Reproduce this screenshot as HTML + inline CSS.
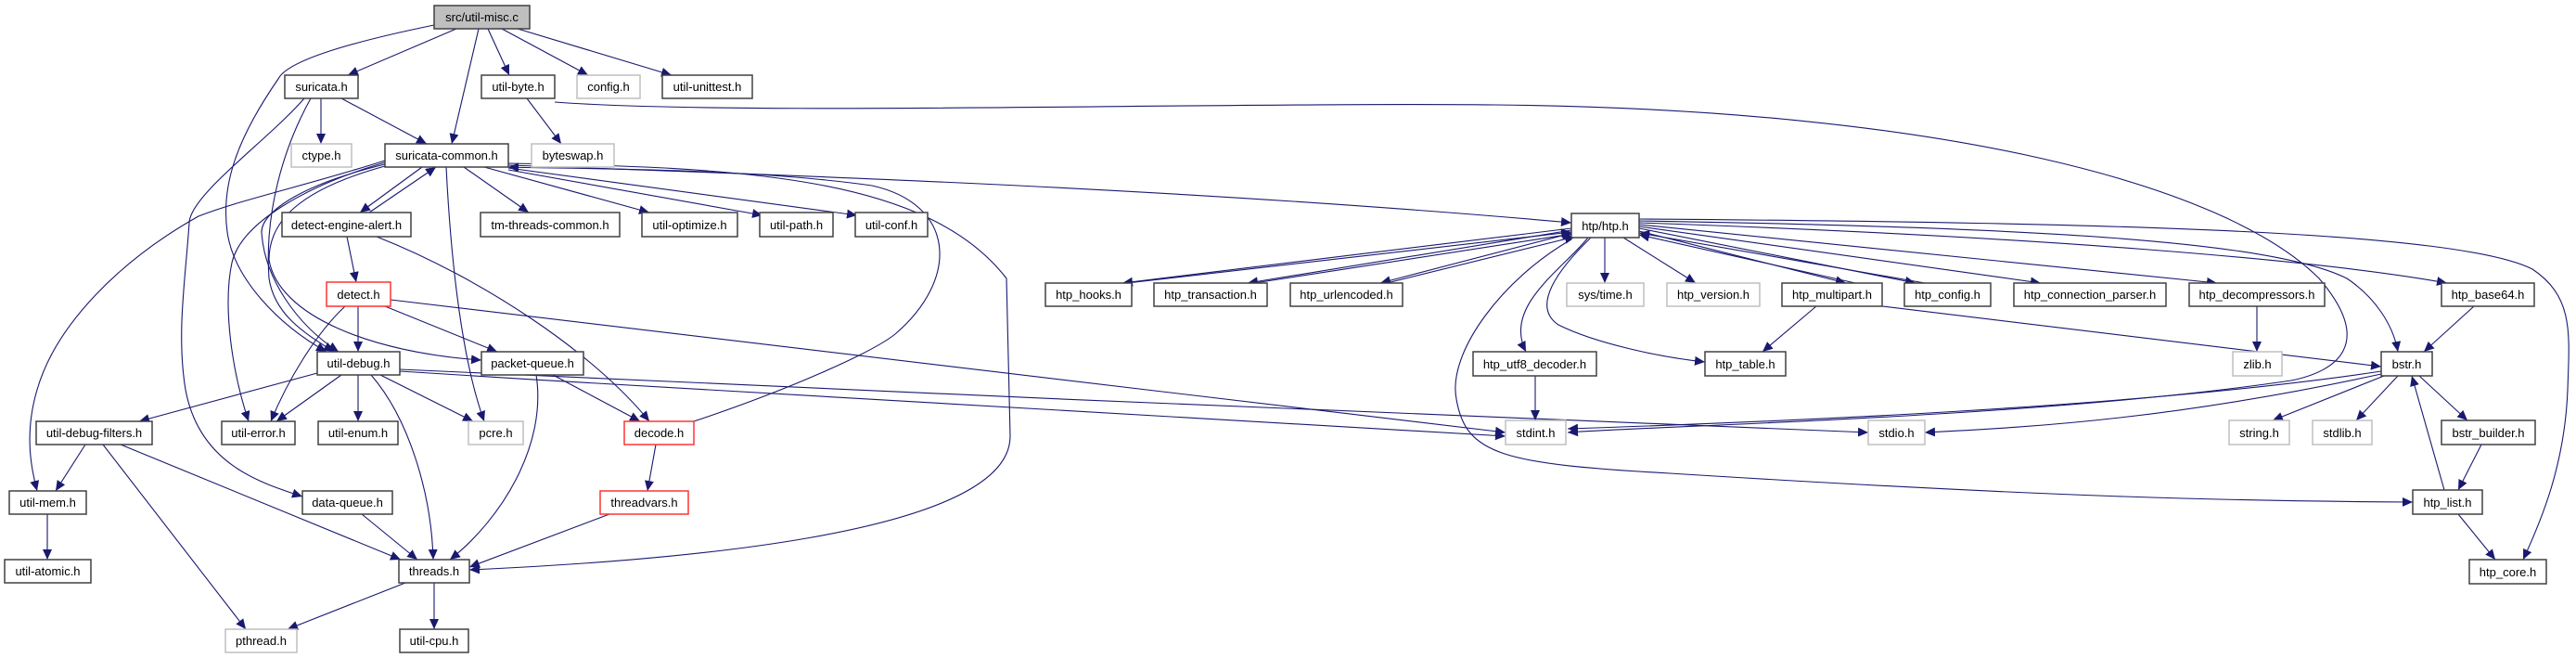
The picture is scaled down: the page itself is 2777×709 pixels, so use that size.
<!DOCTYPE html>
<html><head><meta charset="utf-8"><style>
html,body{margin:0;padding:0;background:#fff;}
svg{display:block;}
text{font-family:"Liberation Sans",sans-serif;font-size:13px;fill:#000;text-anchor:middle;}
.n{fill:#fff;stroke:#404040;stroke-width:1.5;}
.g{fill:#fff;stroke:#bfbfbf;stroke-width:1.5;}
.r{fill:#fff;stroke:#ff3333;stroke-width:1.5;}
.e{fill:none;stroke:#191970;stroke-width:1.1;marker-end:url(#a);}
</style></head><body>
<svg width="2777" height="709" viewBox="0 0 2777 709" xmlns="http://www.w3.org/2000/svg">
<defs><marker id="a" markerUnits="userSpaceOnUse" markerWidth="12" markerHeight="10" refX="11" refY="5" orient="auto"><path d="M0,0 L11,5 L0,10 z" fill="#191970"/></marker></defs>

<!-- edges -->
<path class="e" d="M492,31 L375,81"/>
<path class="e" d="M516,31 L487,155"/>
<path class="e" d="M526,31 L549,81"/>
<path class="e" d="M541,31 L634,81"/>
<path class="e" d="M558,31 L724,81"/>
<path class="e" d="M468,27 C380,45 310,65 300,85 C255,150 238,200 245,250 C252,300 300,350 352,379"/>
<path class="e" d="M346,106 L346,155"/>
<path class="e" d="M368,106 L460,155"/>
<path class="e" d="M328,106 C290,150 205,210 204,240 C200,300 190,360 200,420 C215,500 280,520 326,535"/>
<path class="e" d="M335,106 C305,160 285,230 290,300 C296,340 330,360 360,379"/>
<path class="e" d="M568,106 L605,155"/>
<path class="e" d="M598,110 C800,125 1300,110 1612,113 C2100,118 2400,200 2500,300 C2560,370 2520,400 2470,410 C2200,450 1800,458 1690,466"/>
<!-- suricata-common out -->
<path class="e" d="M415,173 C330,200 260,215 214,233 C130,280 60,350 40,420 C25,470 35,510 40,529"/>
<path class="e" d="M415,175 C330,200 260,240 250,283 C240,330 250,400 268,454"/>
<path class="e" d="M415,177 C320,200 282,230 282,250 C285,300 320,350 365,379"/>
<path class="e" d="M415,179 C320,205 290,240 290,280 C300,340 400,380 519,388"/>
<path class="e" d="M481,180 C485,260 495,380 522,454"/>
<path class="e" d="M455,180 L388,229"/>
<path class="e" d="M398,229 L470,180"/>
<path class="e" d="M500,180 L570,229"/>
<path class="e" d="M522,180 L700,229"/>
<path class="e" d="M548,183 L822,232"/>
<path class="e" d="M548,181 L924,232"/>
<path class="e" d="M548,178 C900,190 1300,205 1694,240"/>
<path class="e" d="M548,176 C800,180 1000,190 1085,300 L1089,470 C1089,580 700,605 506,614"/>
<path class="e" d="M748,454 C850,420 940,380 965,360 C1035,300 1030,220 940,200 C800,180 600,182 548,180"/>
<path class="e" d="M374,255 L384,304"/>
<path class="e" d="M406,255 C520,300 640,380 700,454"/>
<!-- detect.h -->
<path class="e" d="M372,330 C340,360 310,410 292,454"/>
<path class="e" d="M386,330 L386,379"/>
<path class="e" d="M415,330 L536,379"/>
<path class="e" d="M421,323 L1623,466"/>
<!-- util-debug -->
<path class="e" d="M342,402 L150,454"/>
<path class="e" d="M368,404 L298,454"/>
<path class="e" d="M386,404 L386,454"/>
<path class="e" d="M410,404 L510,454"/>
<path class="e" d="M400,404 C440,450 465,530 467,603"/>
<path class="e" d="M431,398 C900,420 1600,450 2014,466"/>
<path class="e" d="M431,400 C900,430 1400,455 1623,470"/>
<!-- packet-queue -->
<path class="e" d="M578,404 C590,480 540,560 485,603"/>
<path class="e" d="M596,404 L690,454"/>
<!-- filters -->
<path class="e" d="M92,479 L60,529"/>
<path class="e" d="M130,479 L432,603"/>
<path class="e" d="M111,479 L265,678"/>
<path class="e" d="M390,554 L450,603"/>
<path class="e" d="M51,554 L51,603"/>
<path class="e" d="M657,554 L506,611"/>
<path class="e" d="M437,628 L310,678"/>
<path class="e" d="M468,628 L468,678"/>
<path class="e" d="M707,479 L698,529"/>
<!-- htp -->
<path class="e" d="M1694,246 L1210,305"/>
<path class="e" d="M1215,305 L1694,250"/>
<path class="e" d="M1694,248 L1345,305"/>
<path class="e" d="M1352,305 L1695,252"/>
<path class="e" d="M1695,251 L1488,305"/>
<path class="e" d="M1495,305 L1698,255"/>
<path class="e" d="M1767,249 L1990,305"/>
<path class="e" d="M2000,305 L1767,253"/>
<path class="e" d="M1767,246 L2065,305"/>
<path class="e" d="M2075,305 L1767,251"/>
<path class="e" d="M1730,256 L1730,305"/>
<path class="e" d="M1750,256 L1828,305"/>
<path class="e" d="M1767,244 L2200,305"/>
<path class="e" d="M1767,242 L2390,305"/>
<path class="e" d="M1767,240 C2200,255 2500,280 2638,305"/>
<path class="e" d="M1767,238 C2200,245 2450,260 2530,300 C2560,320 2580,350 2585,379"/>
<path class="e" d="M1767,236 C2300,240 2650,250 2730,290 C2775,320 2770,360 2768,420 C2765,500 2740,560 2720,603"/>
<path class="e" d="M1712,256 C1685,290 1620,330 1645,379"/>
<path class="e" d="M1715,256 C1680,290 1650,330 1680,350 C1720,370 1790,385 1838,390"/>
<path class="e" d="M1694,258 C1620,300 1560,380 1570,430 C1580,490 1620,500 1800,510 C2200,535 2400,540 2601,541"/>
<path class="e" d="M1655,405 L1655,453"/>
<path class="e" d="M1958,330 L1900,379"/>
<path class="e" d="M2029,330 L2567,395"/>
<path class="e" d="M2433,330 L2433,379"/>
<path class="e" d="M2667,330 L2613,379"/>
<path class="e" d="M2567,400 C2300,440 1900,455 1690,462"/>
<path class="e" d="M2567,403 C2350,450 2200,460 2075,466"/>
<path class="e" d="M2570,405 L2450,453"/>
<path class="e" d="M2585,405 L2540,453"/>
<path class="e" d="M2608,405 L2660,453"/>
<path class="e" d="M2675,479 L2650,528"/>
<path class="e" d="M2635,528 L2600,405"/>
<path class="e" d="M2650,554 L2690,603"/>

<!-- nodes -->
<rect x="468" y="6" width="103" height="25" fill="#bfbfbf" stroke="#404040" stroke-width="1.5"/><text x="519.5" y="23">src/util-misc.c</text>
<rect class="n" x="307" y="81" width="79" height="25"/><text x="346.5" y="98">suricata.h</text>
<rect class="n" x="519" y="81" width="79" height="25"/><text x="558.5" y="98">util-byte.h</text>
<rect class="g" x="622" y="81" width="68" height="25"/><text x="656" y="98">config.h</text>
<rect class="n" x="714" y="81" width="97" height="25"/><text x="762.5" y="98">util-unittest.h</text>
<rect class="g" x="314" y="155" width="65" height="25"/><text x="346.5" y="172">ctype.h</text>
<rect class="n" x="415" y="155" width="133" height="25"/><text x="481.5" y="172">suricata-common.h</text>
<rect class="g" x="573" y="155" width="89" height="25"/><text x="617.5" y="172">byteswap.h</text>
<rect class="n" x="304" y="229" width="139" height="26"/><text x="373.5" y="247">detect-engine-alert.h</text>
<rect class="n" x="518" y="229" width="150" height="26"/><text x="593" y="247">tm-threads-common.h</text>
<rect class="n" x="692" y="229" width="103" height="26"/><text x="743.5" y="247">util-optimize.h</text>
<rect class="n" x="819" y="229" width="79" height="26"/><text x="858.5" y="247">util-path.h</text>
<rect class="n" x="922" y="229" width="78" height="26"/><text x="961" y="247">util-conf.h</text>
<rect class="r" x="352" y="304" width="69" height="26"/><text x="386.5" y="322">detect.h</text>
<rect class="n" x="342" y="379" width="89" height="25"/><text x="386.5" y="396">util-debug.h</text>
<rect class="n" x="519" y="379" width="110" height="25"/><text x="574" y="396">packet-queue.h</text>
<rect class="n" x="39" y="454" width="125" height="25"/><text x="101.5" y="471">util-debug-filters.h</text>
<rect class="n" x="239" y="454" width="79" height="25"/><text x="278.5" y="471">util-error.h</text>
<rect class="n" x="343" y="454" width="86" height="25"/><text x="386" y="471">util-enum.h</text>
<rect class="g" x="505" y="454" width="59" height="25"/><text x="534.5" y="471">pcre.h</text>
<rect class="r" x="673" y="454" width="75" height="25"/><text x="710.5" y="471">decode.h</text>
<rect class="n" x="10" y="529" width="83" height="25"/><text x="51.5" y="546">util-mem.h</text>
<rect class="n" x="326" y="529" width="97" height="25"/><text x="374.5" y="546">data-queue.h</text>
<rect class="r" x="647" y="529" width="95" height="25"/><text x="694.5" y="546">threadvars.h</text>
<rect class="n" x="5" y="603" width="93" height="25"/><text x="51.5" y="620">util-atomic.h</text>
<rect class="n" x="430" y="603" width="76" height="25"/><text x="468" y="620">threads.h</text>
<rect class="g" x="243" y="678" width="77" height="25"/><text x="281.5" y="695">pthread.h</text>
<rect class="n" x="431" y="678" width="74" height="25"/><text x="468" y="695">util-cpu.h</text>

<rect class="n" x="1694" y="230" width="73" height="26"/><text x="1730.5" y="248">htp/htp.h</text>
<rect class="n" x="1127" y="305" width="93" height="25"/><text x="1173.5" y="322">htp_hooks.h</text>
<rect class="n" x="1244" y="305" width="122" height="25"/><text x="1305" y="322">htp_transaction.h</text>
<rect class="n" x="1391" y="305" width="121" height="25"/><text x="1451.5" y="322">htp_urlencoded.h</text>
<rect class="g" x="1689" y="305" width="83" height="25"/><text x="1730.5" y="322">sys/time.h</text>
<rect class="g" x="1797" y="305" width="100" height="25"/><text x="1847" y="322">htp_version.h</text>
<rect class="n" x="1921" y="305" width="108" height="25"/><text x="1975" y="322">htp_multipart.h</text>
<rect class="n" x="2053" y="305" width="93" height="25"/><text x="2099.5" y="322">htp_config.h</text>
<rect class="n" x="2171" y="305" width="164" height="25"/><text x="2253" y="322">htp_connection_parser.h</text>
<rect class="n" x="2360" y="305" width="146" height="25"/><text x="2433" y="322">htp_decompressors.h</text>
<rect class="n" x="2632" y="305" width="100" height="25"/><text x="2682" y="322">htp_base64.h</text>
<rect class="n" x="1588" y="379" width="133" height="26"/><text x="1654.5" y="397">htp_utf8_decoder.h</text>
<rect class="n" x="1838" y="379" width="87" height="26"/><text x="1881.5" y="397">htp_table.h</text>
<rect class="g" x="2407" y="379" width="53" height="26"/><text x="2433.5" y="397">zlib.h</text>
<rect class="n" x="2567" y="379" width="55" height="26"/><text x="2594.5" y="397">bstr.h</text>
<rect class="g" x="1623" y="453" width="65" height="26"/><text x="1655.5" y="471">stdint.h</text>
<rect class="g" x="2014" y="453" width="61" height="26"/><text x="2044.5" y="471">stdio.h</text>
<rect class="g" x="2403" y="453" width="65" height="26"/><text x="2435.5" y="471">string.h</text>
<rect class="g" x="2493" y="453" width="64" height="26"/><text x="2525" y="471">stdlib.h</text>
<rect class="n" x="2632" y="453" width="101" height="26"/><text x="2682.5" y="471">bstr_builder.h</text>
<rect class="n" x="2601" y="528" width="75" height="26"/><text x="2638.5" y="546">htp_list.h</text>
<rect class="n" x="2662" y="603" width="83" height="26"/><text x="2703.5" y="621">htp_core.h</text>
</svg>
</body></html>
